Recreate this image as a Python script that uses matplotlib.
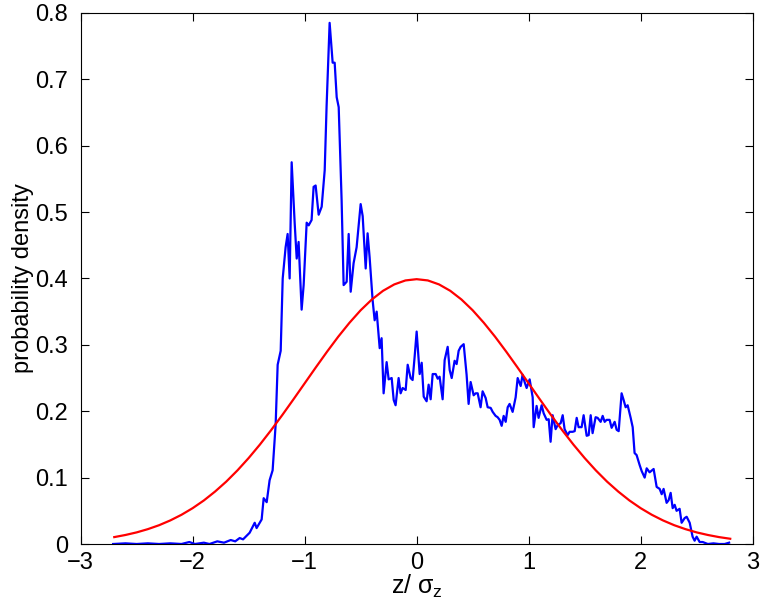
import matplotlib
matplotlib.use("Agg")
import matplotlib.pyplot as plt

plt.rcParams['font.family'] = ['Liberation Sans', 'DejaVu Sans']
plt.rcParams['mathtext.fontset'] = 'custom'
plt.rcParams['mathtext.rm'] = 'Liberation Sans'
plt.rcParams['mathtext.it'] = 'Liberation Sans'

# measured longitudinal distribution (normalised position, density)
z_meas = [-2.71, -2.6, -2.5, -2.4, -2.3, -2.2, -2.1, -2.03, -1.98, -1.9,
          -1.85, -1.78, -1.72, -1.66, -1.62, -1.58, -1.55, -1.52,
          -1.491, -1.446, -1.429, -1.384, -1.366, -1.339, -1.313, -1.286, -1.259, -1.241,
          -1.214, -1.196, -1.170, -1.152, -1.134, -1.116, -1.089, -1.071, -1.054, -1.027,
          -1.009, -0.982, -0.964, -0.938, -0.920, -0.902, -0.875, -0.848, -0.821, -0.804,
          -0.777, -0.750, -0.732, -0.714, -0.696, -0.670, -0.652, -0.625, -0.607, -0.589,
          -0.563, -0.536, -0.500, -0.482, -0.455, -0.438, -0.420, -0.393, -0.375, -0.357,
          -0.330, -0.313, -0.295, -0.268, -0.250, -0.223, -0.205, -0.188, -0.161, -0.143,
          -0.125, -0.098, -0.080, -0.054, -0.036, -0.018, 0.000, 0.027, 0.045, 0.063,
          0.089, 0.107, 0.125, 0.143, 0.170, 0.188, 0.205, 0.232, 0.250, 0.277,
          0.295, 0.313, 0.339, 0.357, 0.375, 0.393, 0.420, 0.446, 0.464, 0.482,
          0.509, 0.527, 0.545, 0.571, 0.589, 0.616, 0.634, 0.661, 0.679, 0.705,
          0.723, 0.741, 0.759, 0.777, 0.795, 0.813, 0.830, 0.857, 0.884, 0.902,
          0.929, 0.946, 0.964, 0.982, 1.009, 1.036, 1.045, 1.071, 1.089, 1.116,
          1.134, 1.161, 1.179, 1.196, 1.214, 1.241, 1.259, 1.286, 1.304, 1.321,
          1.348, 1.366, 1.393, 1.411, 1.429, 1.446, 1.473, 1.491, 1.518, 1.536,
          1.554, 1.571, 1.598, 1.616, 1.643, 1.661, 1.679, 1.696, 1.723, 1.741,
          1.768, 1.786, 1.804, 1.830, 1.848, 1.866, 1.884, 1.911, 1.929, 1.946,
          1.964, 1.991, 2.009, 2.036, 2.054, 2.080, 2.116, 2.143, 2.170, 2.188,
          2.205, 2.232, 2.250, 2.268, 2.286, 2.304, 2.321, 2.348, 2.366, 2.393,
          2.411, 2.438, 2.464, 2.482, 2.500, 2.527, 2.554, 2.6, 2.65, 2.7,
          2.75, 2.79]
density = [0.0, 0.001, 0.0, 0.001, 0.0, 0.001, 0.0, 0.003, 0.0, 0.002,
           0.0, 0.004, 0.002, 0.006, 0.004, 0.009, 0.007, 0.012,
           0.017, 0.032, 0.024, 0.037, 0.069, 0.063, 0.096, 0.111, 0.180, 0.270,
           0.291, 0.400, 0.447, 0.467, 0.400, 0.575, 0.483, 0.430, 0.455, 0.353,
           0.390, 0.484, 0.480, 0.488, 0.538, 0.540, 0.496, 0.508, 0.563, 0.660,
           0.785, 0.725, 0.725, 0.673, 0.658, 0.518, 0.390, 0.395, 0.467, 0.380,
           0.423, 0.447, 0.512, 0.494, 0.415, 0.468, 0.432, 0.367, 0.337, 0.350,
           0.295, 0.310, 0.227, 0.274, 0.248, 0.250, 0.217, 0.209, 0.250, 0.227,
           0.235, 0.232, 0.270, 0.250, 0.247, 0.282, 0.320, 0.256, 0.273, 0.222,
           0.215, 0.240, 0.218, 0.256, 0.256, 0.249, 0.252, 0.218, 0.277, 0.297,
           0.262, 0.250, 0.276, 0.271, 0.291, 0.297, 0.301, 0.255, 0.211, 0.244,
           0.224, 0.227, 0.227, 0.206, 0.230, 0.220, 0.206, 0.205, 0.199, 0.193,
           0.191, 0.187, 0.178, 0.193, 0.184, 0.206, 0.211, 0.199, 0.221, 0.250,
           0.238, 0.255, 0.244, 0.235, 0.248, 0.221, 0.176, 0.208, 0.190, 0.209,
           0.197, 0.187, 0.188, 0.154, 0.194, 0.173, 0.179, 0.182, 0.194, 0.173,
           0.164, 0.169, 0.169, 0.170, 0.190, 0.176, 0.176, 0.194, 0.163, 0.164,
           0.194, 0.167, 0.191, 0.190, 0.184, 0.193, 0.184, 0.187, 0.187, 0.175,
           0.184, 0.172, 0.170, 0.227, 0.217, 0.206, 0.209, 0.190, 0.176, 0.137,
           0.134, 0.119, 0.110, 0.100, 0.114, 0.108, 0.113, 0.086, 0.083, 0.075,
           0.083, 0.062, 0.066, 0.077, 0.054, 0.059, 0.050, 0.053, 0.032, 0.039,
           0.041, 0.032, 0.011, 0.005, 0.011, 0.003, 0.003, 0.0, 0.001, 0.0,
           0.0, 0.002]

# reference gaussian, unit sigma
z_gauss = [-2.7, -2.6, -2.5, -2.4, -2.3, -2.2, -2.1, -2.0, -1.9, -1.8,
           -1.7, -1.6, -1.5, -1.4, -1.3, -1.2, -1.1, -1.0, -0.9, -0.8,
           -0.7, -0.6, -0.5, -0.4, -0.3, -0.2, -0.1, 0.0, 0.1, 0.2,
           0.3, 0.4, 0.5, 0.6, 0.7, 0.8, 0.9, 1.0, 1.1, 1.2,
           1.3, 1.4, 1.5, 1.6, 1.7, 1.8, 1.9, 2.0, 2.1, 2.2,
           2.3, 2.4, 2.5, 2.6, 2.7, 2.8]
gauss = [0.0104, 0.0136, 0.0175, 0.0224, 0.0283, 0.0355, 0.0440, 0.0540, 0.0656, 0.0790,
         0.0940, 0.1109, 0.1295, 0.1497, 0.1714, 0.1942, 0.2179, 0.2420, 0.2661, 0.2897,
         0.3123, 0.3332, 0.3521, 0.3683, 0.3814, 0.3910, 0.3970, 0.3989, 0.3970, 0.3910,
         0.3814, 0.3683, 0.3521, 0.3332, 0.3123, 0.2897, 0.2661, 0.2420, 0.2179, 0.1942,
         0.1714, 0.1497, 0.1295, 0.1109, 0.0940, 0.0790, 0.0656, 0.0540, 0.0440, 0.0355,
         0.0283, 0.0224, 0.0175, 0.0136, 0.0104, 0.0079]

x_ticks = [-3, -2, -1, 0, 1, 2, 3]
y_ticks = [0, 0.1, 0.2, 0.3, 0.4, 0.5, 0.6, 0.7, 0.8]
y_ticklabels = ['0', '0.1', '0.2', '0.3', '0.4', '0.5', '0.6', '0.7', '0.8']

fig = plt.figure(figsize=(7.61, 6.14), dpi=100)
ax = fig.add_axes([0.106, 0.114, 0.883, 0.865])

ax.plot(z_meas, density, color='#0000ff', lw=1.6)
ax.plot(z_gauss, gauss, color='#ff0000', lw=1.6)

ax.set_xlim(-3, 3)
ax.set_ylim(0, 0.8)
ax.set_xticks(x_ticks)
ax.set_yticks(y_ticks)
ax.set_yticklabels(y_ticklabels)
ax.tick_params(direction='in', top=True, right=True, length=6, width=0.8,
               labelsize=17)
ax.tick_params(axis='x', pad=6)
ax.tick_params(axis='y', pad=9)
for s in ax.spines.values():
    s.set_linewidth(0.8)

ax.set_xlabel('z/ $\\sigma_z$', fontsize=18, labelpad=-1)
ax.set_ylabel('probability density', fontsize=17, labelpad=1)

fig.savefig('out.png', dpi=100)
